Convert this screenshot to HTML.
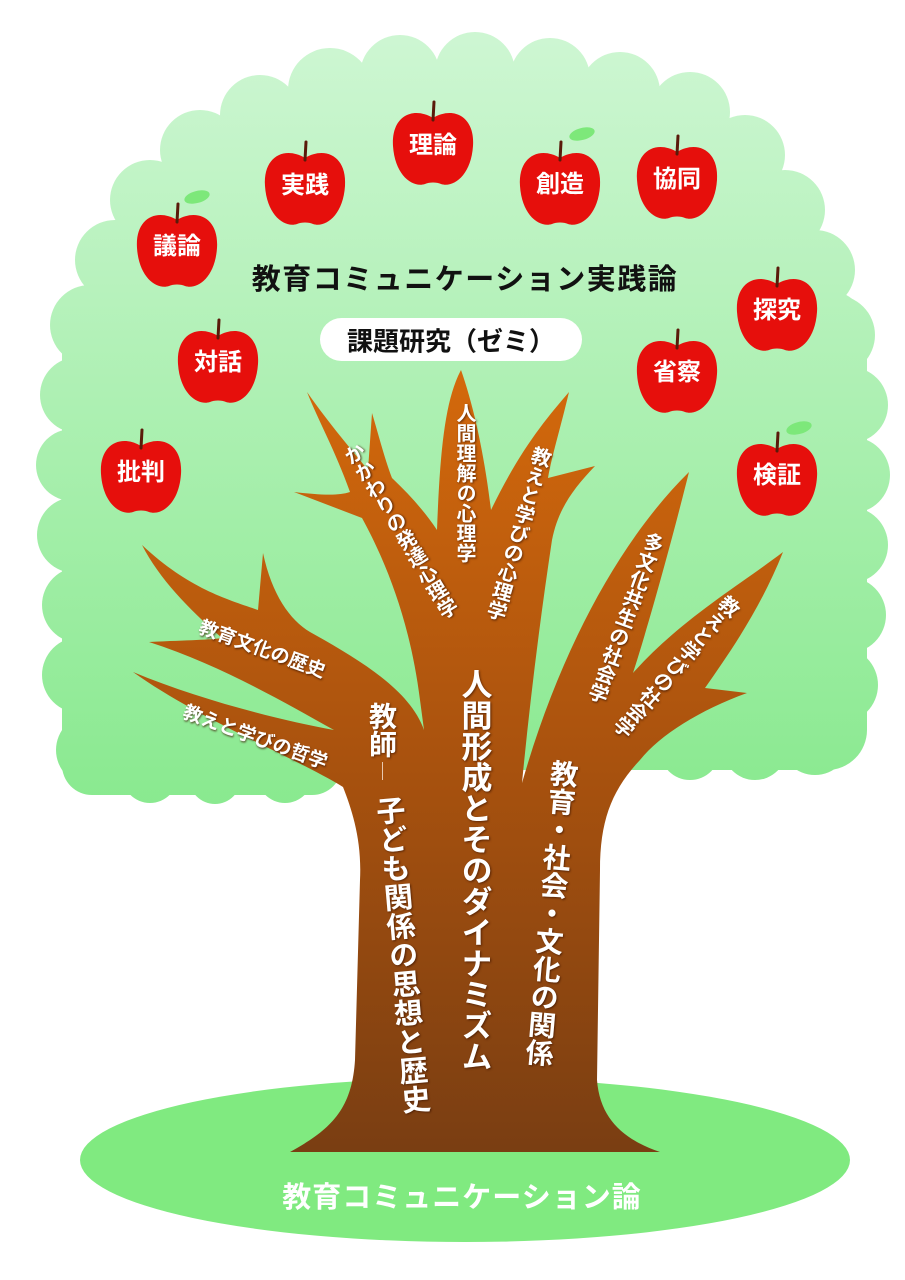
<!DOCTYPE html>
<html><head><meta charset="utf-8">
<style>
html,body{margin:0;padding:0;background:#fff;}
#c{position:relative;width:905px;height:1280px;overflow:hidden;font-family:"Liberation Sans","Noto Sans CJK JP",sans-serif;}
svg{position:absolute;left:0;top:0;}
.t{position:absolute;color:#fff;font-weight:bold;white-space:nowrap;line-height:1;text-shadow:1px 1px 2px rgba(60,20,0,.7);}
.v{writing-mode:vertical-rl;}
.a{position:absolute;color:#fff;font-weight:bold;font-size:24px;line-height:1;transform:translate(-50%,-50%);white-space:nowrap;}
</style></head><body><div id="c">
<svg width="905" height="1280" viewBox="0 0 905 1280">
<defs>
<linearGradient id="gc" gradientUnits="userSpaceOnUse" x1="0" y1="40" x2="0" y2="820">
<stop offset="0" stop-color="#cdf6d2"/><stop offset="1" stop-color="#88e98e"/></linearGradient>
<linearGradient id="gt" gradientUnits="userSpaceOnUse" x1="0" y1="370" x2="0" y2="1150">
<stop offset="0" stop-color="#d4690c"/><stop offset="0.5" stop-color="#a9520e"/><stop offset="1" stop-color="#7a3e12"/></linearGradient>
<g id="ap">
<path d="M0,-28 C-20,-40 -42,-30 -40,0 C-38,30 -20,42 -8,38 C-4,36 4,36 8,38 C20,42 38,30 40,0 C42,-30 20,-40 0,-28Z" fill="#e60f0c"/>
<path d="M0,-26 L1,-44" stroke="#5a1a0a" stroke-width="3" stroke-linecap="round"/>
</g>
</defs>
<g fill="url(#gc)">
<ellipse cx="465" cy="400" rx="380" ry="330"/>
<rect x="62" y="290" width="805" height="480" rx="40"/>
<rect x="62" y="500" width="280" height="295" rx="30"/>
<circle cx="330" cy="90" r="42"/><circle cx="400" cy="75" r="40"/><circle cx="475" cy="72" r="40"/>
<circle cx="550" cy="78" r="40"/><circle cx="620" cy="92" r="40"/><circle cx="690" cy="112" r="40"/>
<circle cx="745" cy="155" r="40"/><circle cx="785" cy="210" r="40"/><circle cx="815" cy="270" r="40"/>
<circle cx="835" cy="335" r="40"/><circle cx="850" cy="405" r="38"/><circle cx="852" cy="475" r="38"/>
<circle cx="850" cy="545" r="38"/><circle cx="848" cy="615" r="38"/><circle cx="840" cy="685" r="38"/>
<circle cx="815" cy="740" r="35"/><circle cx="755" cy="748" r="32"/><circle cx="690" cy="750" r="30"/>
<circle cx="260" cy="115" r="40"/><circle cx="200" cy="150" r="40"/><circle cx="150" cy="200" r="40"/>
<circle cx="115" cy="260" r="40"/><circle cx="90" cy="325" r="40"/><circle cx="78" cy="395" r="38"/>
<circle cx="72" cy="465" r="36"/><circle cx="75" cy="535" r="38"/><circle cx="80" cy="605" r="38"/>
<circle cx="80" cy="675" r="38"/><circle cx="92" cy="750" r="36"/><circle cx="150" cy="775" r="28"/>
<circle cx="215" cy="778" r="26"/><circle cx="285" cy="775" r="28"/>
</g>
<ellipse cx="465" cy="1160" rx="385" ry="82" fill="#80ea80"/>
<path fill="url(#gt)" d="M290,1152 C330,1130 352,1110 355,1060 L360,880 C362,840 352,810 343,787
C300,760 200,720 133,672 C200,700 280,720 334,730
C280,700 220,665 149,642 C190,640 210,640 222,638
C190,610 160,580 142,545 C190,590 230,600 258,610
L263,553 C272,595 290,620 310,632 C360,660 410,690 424,730
L420,700 C410,620 385,560 362,518 L294,492 C320,495 338,496 350,492
C335,450 318,420 307,392 C330,425 352,450 368,470 L372,413 C380,440 385,460 392,478
C410,495 425,512 437,530 C440,450 445,400 461,370 C475,410 485,460 491,510
C520,450 545,420 569,392 C560,430 552,455 548,478 L595,466 C572,490 558,510 552,540
C540,620 530,700 522,783 C560,650 620,540 689,472 C672,540 650,620 633,673
C680,620 740,585 783,552 C760,610 728,655 705,688 L747,693 C700,710 660,735 640,760
C612,790 600,820 600,870 L597,1080 C600,1120 625,1140 660,1152 Z"/>
<use href="#ap" x="177" y="248"/>
<use href="#ap" x="305" y="186"/>
<use href="#ap" x="433" y="146"/>
<use href="#ap" x="560" y="186"/>
<use href="#ap" x="677" y="180"/>
<use href="#ap" x="777" y="312"/>
<use href="#ap" x="218" y="364"/>
<use href="#ap" x="677" y="374"/>
<use href="#ap" x="141" y="474"/>
<use href="#ap" x="777" y="477"/>
<ellipse cx="197" cy="197" rx="13" ry="6" fill="#7de87a" transform="rotate(-15 197 197)"/>
<ellipse cx="582" cy="134" rx="13" ry="6" fill="#7de87a" transform="rotate(-15 582 134)"/>
<ellipse cx="799" cy="428" rx="13" ry="6" fill="#7de87a" transform="rotate(-15 799 428)"/>
<rect x="320" y="318" width="262" height="43" rx="21.5" fill="#fff"/>
</svg>

<div class="a" style="left:177px;top:247px">議論</div>
<div class="a" style="left:305px;top:186px">実践</div>
<div class="a" style="left:433px;top:146px">理論</div>
<div class="a" style="left:560px;top:185px">創造</div>
<div class="a" style="left:677px;top:180px">協同</div>
<div class="a" style="left:777px;top:311px">探究</div>
<div class="a" style="left:218px;top:363px">対話</div>
<div class="a" style="left:677px;top:373px">省察</div>
<div class="a" style="left:141px;top:473px">批判</div>
<div class="a" style="left:777px;top:476px">検証</div>

<div style="position:absolute;left:465px;top:277px;transform:translate(-50%,-50%);font-size:29px;font-weight:bold;color:#111;white-space:nowrap;letter-spacing:1.5px;">教育コミュニケーション実践論</div>
<div style="position:absolute;left:451px;top:340px;transform:translate(-50%,-50%);font-size:26px;font-weight:bold;color:#111;white-space:nowrap;">課題研究（ゼミ）</div>
<div style="position:absolute;left:462px;top:1195px;transform:translate(-50%,-50%);font-size:29px;font-weight:bold;color:#fff;white-space:nowrap;letter-spacing:1px;">教育コミュニケーション論</div>

<div class="t" style="left:262px;top:650px;font-size:19px;transform:translate(-50%,-50%) rotate(20deg)">教育文化の歴史</div>
<div class="t" style="left:255px;top:738px;font-size:19px;transform:translate(-50%,-50%) rotate(20deg)">教えと学びの哲学</div>
<div class="t v" style="left:399px;top:532px;font-size:20px;transform:translate(-50%,-50%) rotate(-31deg)">かかわりの発達心理学</div>
<div class="t v" style="left:464px;top:483px;font-size:20px;transform:translate(-50%,-50%)">人間理解の心理学</div>
<div class="t v" style="left:517px;top:533px;font-size:20px;transform:translate(-50%,-50%) rotate(16deg)">教えと学びの心理学</div>
<div class="t v" style="left:624px;top:617px;font-size:20px;transform:translate(-50%,-50%) rotate(20deg)">多文化共生の社会学</div>
<div class="t v" style="left:675px;top:665px;font-size:20px;transform:translate(-50%,-50%) rotate(41deg)">教えと学びの社会学</div>

<div class="t v" style="left:381px;top:730px;font-size:28px;transform:translate(-50%,-50%)">教師</div>
<div style="position:absolute;left:382px;top:762px;width:1px;height:18px;background:#e8c8b0;"></div>
<div class="t v" style="left:400px;top:955px;font-size:29px;transform:translate(-50%,-50%) rotate(-5deg)">子ども関係の思想と歴史</div>
<div class="t v" style="left:474px;top:870px;font-size:31px;transform:translate(-50%,-50%)">人間形成とそのダイナミズム</div>
<div class="t v" style="left:550px;top:913px;font-size:28px;transform:translate(-50%,-50%) rotate(5deg)">教育・社会・文化の関係</div>
</div></body></html>
